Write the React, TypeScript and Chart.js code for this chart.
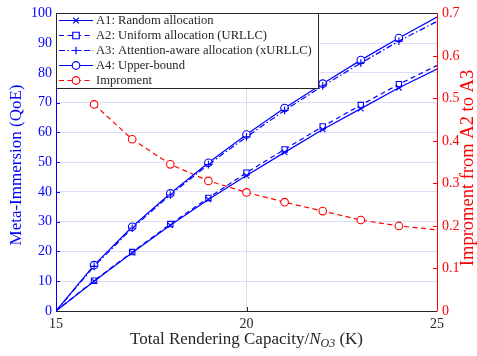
import React, { useEffect, useRef } from "react";
import { Chart, registerables } from "chart.js";

Chart.register(...registerables);

// ---- data ----
const xValues = [15, 16, 17, 18, 19, 20, 21, 22, 23, 24, 25];
const a1Random = [0, 10.0, 19.6, 28.8, 37.5, 45.5, 53.3, 61.0, 68.0, 75.0, 81.3];
const a2Uniform = [0, 10.2, 19.8, 29.2, 38.0, 46.5, 54.3, 62.0, 69.2, 76.2, 82.5];
const a3Attention = [0, 15.0, 27.8, 39.0, 49.2, 58.5, 67.4, 75.6, 83.3, 90.7, 97.3];
const a4Upper = [0, 15.4, 28.3, 39.5, 49.8, 59.3, 68.2, 76.4, 84.3, 91.7, 98.8];
const improvement = [null, 0.486, 0.404, 0.345, 0.306, 0.279, 0.256, 0.235, 0.214, 0.2, 0.191];

const seriesLabels = [
  "A1: Random allocation",
  "A2: Uniform allocation (URLLC)",
  "A3: Attention-aware allocation (xURLLC)",
  "A4: Upper-bound",
  "Improment",
];
const leftTitle = "Meta-Immersion (QoE)";
const rightTitle = "Improment from A2 to A3";
const xTitleParts = ["Total Rendering Capacity/", "N", "O3", " (K)"];

const BLUE = "#0000ff";
const RED = "#ff0000";
const DARK = "#262626";
const FONT = '"Liberation Serif", "Times New Roman", serif';

type Style = "crossRot" | "rect" | "cross" | "circle";

const seriesStyles: { color: string; dash: number[]; marker: Style }[] = [
  { color: BLUE, dash: [], marker: "crossRot" },
  { color: BLUE, dash: [5, 3.5], marker: "rect" },
  { color: BLUE, dash: [6, 2.5, 1.5, 2.5], marker: "cross" },
  { color: BLUE, dash: [], marker: "circle" },
  { color: RED, dash: [5, 3.5], marker: "circle" },
];

function drawMarker(ctx: CanvasRenderingContext2D, style: Style, x: number, y: number, r: number) {
  ctx.beginPath();
  if (style === "circle") {
    ctx.arc(x, y, r, 0, Math.PI * 2);
    ctx.fillStyle = "#ffffff";
    ctx.fill();
  } else if (style === "rect") {
    ctx.rect(x - r * 0.85, y - r * 0.85, r * 1.7, r * 1.7);
    ctx.fillStyle = "#ffffff";
    ctx.fill();
  } else if (style === "cross") {
    ctx.moveTo(x - r, y);
    ctx.lineTo(x + r, y);
    ctx.moveTo(x, y - r);
    ctx.lineTo(x, y + r);
  } else {
    const d = r * 0.75;
    ctx.moveTo(x - d, y - d);
    ctx.lineTo(x + d, y + d);
    ctx.moveTo(x - d, y + d);
    ctx.lineTo(x + d, y - d);
  }
  ctx.stroke();
}

const framePlugin = {
  id: "frame",
  afterDraw(chart: any) {
    const ctx: CanvasRenderingContext2D = chart.ctx;
    const { left, right, top, bottom } = chart.chartArea;
    const yL = chart.scales.y;
    const yR = chart.scales.y1;
    const xs = chart.scales.x;
    ctx.save();
    ctx.lineWidth = 1;
    ctx.setLineDash([]);

    // inward tick marks
    ctx.strokeStyle = BLUE;
    yL.ticks.forEach((t: any) => {
      const py = Math.round(yL.getPixelForValue(t.value)) + 0.5;
      ctx.beginPath();
      ctx.moveTo(left, py);
      ctx.lineTo(left + 4, py);
      ctx.stroke();
    });
    ctx.strokeStyle = RED;
    yR.ticks.forEach((t: any) => {
      const py = Math.round(yR.getPixelForValue(t.value)) + 0.5;
      ctx.beginPath();
      ctx.moveTo(right, py);
      ctx.lineTo(right - 4, py);
      ctx.stroke();
    });
    ctx.strokeStyle = DARK;
    xs.ticks.forEach((t: any) => {
      const px = Math.round(xs.getPixelForValue(t.value)) + 0.5;
      ctx.beginPath();
      ctx.moveTo(px, bottom);
      ctx.lineTo(px, bottom - 4);
      ctx.moveTo(px, top);
      ctx.lineTo(px, top + 4);
      ctx.stroke();
    });

    // frame
    ctx.strokeStyle = DARK;
    ctx.beginPath();
    ctx.moveTo(left, Math.round(top) + 0.5);
    ctx.lineTo(right, Math.round(top) + 0.5);
    ctx.moveTo(left, Math.round(bottom) + 0.5);
    ctx.lineTo(right, Math.round(bottom) + 0.5);
    ctx.stroke();
    ctx.strokeStyle = BLUE;
    ctx.beginPath();
    ctx.moveTo(Math.round(left) + 0.5, top);
    ctx.lineTo(Math.round(left) + 0.5, bottom + 0.5);
    ctx.stroke();
    ctx.strokeStyle = RED;
    ctx.beginPath();
    ctx.moveTo(Math.round(right) + 0.5, top);
    ctx.lineTo(Math.round(right) + 0.5, bottom + 0.5);
    ctx.stroke();

    // axis titles
    ctx.textAlign = "center";
    ctx.textBaseline = "middle";
    ctx.fillStyle = BLUE;
    ctx.font = `17px ${FONT}`;
    ctx.save();
    ctx.translate(17, 165);
    ctx.rotate(-Math.PI / 2);
    ctx.fillText(leftTitle, 0, 0);
    ctx.restore();
    ctx.fillStyle = RED;
    ctx.font = `18.5px ${FONT}`;
    ctx.save();
    ctx.translate(468, 168);
    ctx.rotate(-Math.PI / 2);
    ctx.fillText(rightTitle, 0, 0);
    ctx.restore();

    // x title with subscript
    ctx.fillStyle = DARK;
    ctx.textAlign = "left";
    ctx.textBaseline = "alphabetic";
    const fonts = [`17px ${FONT}`, `italic 17px ${FONT}`, `italic 12px ${FONT}`, `17px ${FONT}`];
    const offs = [0, 0, 3, 0];
    let total = 0;
    const widths = xTitleParts.map((p, i) => {
      ctx.font = fonts[i];
      const w = ctx.measureText(p).width;
      total += w;
      return w;
    });
    let cx = (left + right) / 2 - total / 2;
    const by = 344;
    xTitleParts.forEach((p, i) => {
      ctx.font = fonts[i];
      ctx.fillText(p, cx, by + offs[i]);
      cx += widths[i];
    });

    // legend
    const lx0 = Math.round(left) + 0.5;
    const lx1 = 318.5;
    const ly0 = Math.round(top) + 0.5;
    const ly1 = 88.5;
    ctx.fillStyle = "#ffffff";
    ctx.fillRect(lx0, ly0, lx1 - lx0, ly1 - ly0);
    ctx.strokeStyle = DARK;
    ctx.setLineDash([]);
    ctx.strokeRect(lx0, ly0, lx1 - lx0, ly1 - ly0);
    const rowsY = [20, 35, 50, 65, 80];
    ctx.font = `12.6px ${FONT}`;
    ctx.textBaseline = "middle";
    seriesLabels.forEach((lab, i) => {
      const s = seriesStyles[i];
      const y = rowsY[i] + 0.5;
      ctx.strokeStyle = s.color;
      ctx.lineWidth = 1.2;
      ctx.setLineDash(s.dash);
      ctx.beginPath();
      ctx.moveTo(59, y);
      ctx.lineTo(93, y);
      ctx.stroke();
      ctx.setLineDash([]);
      drawMarker(ctx, s.marker, 76, y, 3.8);
      ctx.fillStyle = DARK;
      ctx.fillText(lab, 96, y + 0.5);
    });
    ctx.restore();
  },
};

function makeRadius(n: number) {
  return xValues.map((_, i) => (i === 0 || i === n - 1 ? 0 : 3.8));
}

export default function App() {
  const ref = useRef<HTMLCanvasElement | null>(null);
  useEffect(() => {
    if (!ref.current) return;
    const series = [a1Random, a2Uniform, a3Attention, a4Upper, improvement];
    const datasets = series.map((vals, i) => {
      const s = seriesStyles[i];
      return {
        label: seriesLabels[i],
        data: xValues.map((x, j) => ({ x, y: vals[j] })),
        yAxisID: i === 4 ? "y1" : "y",
        borderColor: s.color,
        backgroundColor: "#ffffff",
        borderWidth: 1.2,
        borderDash: s.dash,
        pointStyle: s.marker,
        pointRadius: makeRadius(xValues.length),
        pointBorderWidth: 1.1,
        pointBorderColor: s.color,
        pointBackgroundColor: "#ffffff",
        tension: 0,
        spanGaps: false,
        fill: false,
      };
    });
    const chart = new Chart(ref.current, {
      type: "line",
      data: { datasets: datasets as any },
      plugins: [framePlugin],
      options: {
        animation: false,
        responsive: false,
        devicePixelRatio: 1,
        layout: { padding: { top: 10, left: 0, right: 0, bottom: 0 } },
        plugins: { legend: { display: false }, tooltip: { enabled: false } },
        scales: {
          x: {
            type: "linear",
            min: 15,
            max: 25,
            afterFit: (s: any) => {
              s.height = 45;
            },
            ticks: {
              stepSize: 5,
              color: DARK,
              padding: 5,
              font: { family: FONT, size: 14 },
            },
            grid: { color: "#dedede", drawTicks: false, lineWidth: 1 },
            border: { display: false },
          },
          y: {
            position: "left",
            min: 0,
            max: 100,
            afterFit: (s: any) => {
              s.width = 56;
            },
            ticks: {
              stepSize: 10,
              color: BLUE,
              padding: 4,
              font: { family: FONT, size: 14 },
            },
            grid: { color: "#dcdcfa", drawTicks: false, lineWidth: 1 },
            border: { display: false },
          },
          y1: {
            position: "right",
            min: 0,
            max: 0.7,
            afterFit: (s: any) => {
              s.width = 40;
            },
            ticks: {
              stepSize: 0.1,
              color: RED,
              padding: 5,
              font: { family: FONT, size: 14 },
              callback: (v: any) => (Number(v) === 0 ? "0" : Number(v).toFixed(1)),
            },
            grid: { display: false, drawTicks: false },
            border: { display: false },
          },
        },
      },
    });
    return () => chart.destroy();
  }, []);
  return (
    <div style={{ position: "fixed", left: 0, top: 0, width: 477, height: 356, background: "#ffffff" }}>
      <canvas ref={ref} width={477} height={356} style={{ display: "block" }} />
    </div>
  );
}
